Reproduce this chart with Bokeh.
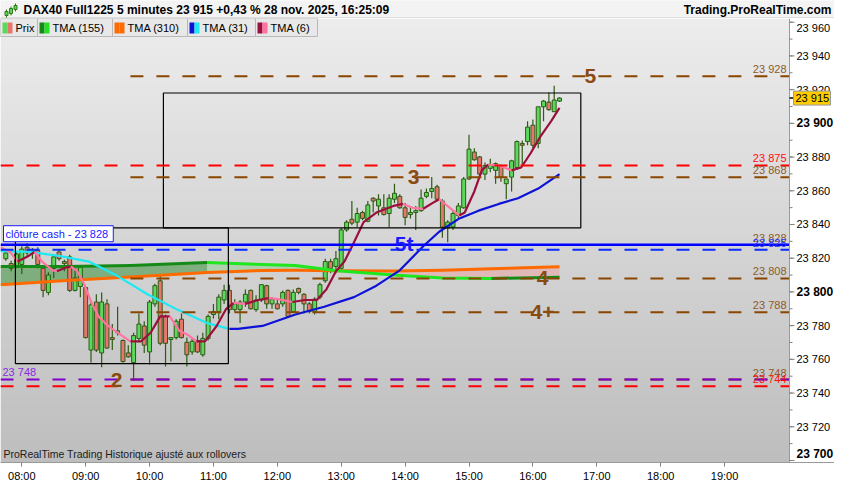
import numpy as np
from bokeh.plotting import figure
from bokeh.layouts import column
from bokeh.models import Range1d, FixedTicker, Label
from bokeh.core.properties import value
from bokeh.embed import file_html
from bokeh.resources import INLINE

FONT = "Liberation Sans"

# ---------------- texts ----------------
title_text = "DAX40 Full1225 5 minutes 23 915 +0,43 % 28 nov. 2025, 16:25:09"
site_text = "Trading.ProRealTime.com"
footer_text = "ProRealTime Trading  Historique ajusté aux rollovers"
legend_names = ["Prix", "TMA (155)", "TMA (310)", "TMA (31)", "TMA (6)"]
cash_text = "clôture cash -  23 828"
last_price_text = "23 915"
last_price = 23915

# ---------------- candles (5 minutes, first bar 07:45) ----------------
first_bar = "07:45"
bar_minutes = 5
opens = [
    23819.7, 23816.8, 23815.1, 23816.3, 23826.5, 23823.1, 23824.8,
    23814.0, 23799.7, 23814.0, 23823.7, 23818.0, 23820.8, 23800.9, 23803.2,
    23802.6, 23765.5, 23794.0, 23763.8, 23792.9, 23772.9, 23775.8, 23771.2, 23763.8, 23758.1, 23772.4, 23779.8,
    23764.4, 23792.9, 23806.6, 23785.5, 23771.8, 23772.9, 23783.8, 23770.1, 23764.4, 23771.2, 23762.7, 23772.4,
    23786.6, 23788.3, 23795.2, 23800.9, 23789.5, 23789.5, 23794.0, 23800.9, 23789.5, 23795.2, 23803.7, 23792.9,
    23792.9, 23792.9, 23800.9, 23788.3, 23802.0, 23798.6, 23792.9, 23788.3, 23796.9, 23806.6, 23818.0, 23815.1,
    23814.0, 23836.8, 23843.1, 23841.4, 23847.1, 23841.9, 23855.6, 23851.0, 23849.9, 23846.5, 23855.0, 23856.7,
    23849.9, 23845.9, 23847.1, 23848.2, 23856.7, 23859.6, 23862.4, 23853.9,
    23837.9, 23838.5, 23845.3, 23849.9, 23867.0,
    23883.0, 23880.1, 23869.9, 23873.3, 23872.1, 23875.0, 23864.2, 23868.1, 23873.8, 23888.1, 23889.2, 23898.9,
    23888.1, 23909.8, 23912.6, 23906.9, 23913.2,
]
highs = [
    23825.4, 23818.5, 23824.2, 23827.1, 23828.8, 23826.0, 23826.5,
    23815.7, 23811.7, 23822.5, 23825.4, 23819.1, 23822.0, 23815.1, 23815.7,
    23803.2, 23794.0, 23798.6, 23799.7, 23795.7, 23780.9, 23791.2, 23771.8, 23768.4, 23775.8, 23787.2, 23782.6,
    23795.2, 23804.9, 23809.4, 23786.6, 23772.9, 23783.8, 23787.2, 23772.9, 23772.4, 23774.1, 23775.8, 23786.6,
    23792.9, 23798.6, 23804.3, 23804.3, 23795.7, 23795.2, 23801.4, 23801.4, 23798.0, 23804.3, 23804.3, 23796.9,
    23795.2, 23800.9, 23801.4, 23801.4, 23802.6, 23799.2, 23794.0, 23796.9, 23805.4, 23819.7, 23819.7, 23824.2,
    23837.9, 23842.5, 23853.9, 23849.9, 23848.2, 23853.9, 23856.2, 23857.9, 23857.9, 23857.9, 23864.2, 23857.9,
    23852.8, 23849.9, 23851.0, 23860.7, 23861.3, 23868.1, 23863.6, 23855.0,
    23842.5, 23848.2, 23852.8, 23868.1, 23893.2,
    23885.2, 23880.7, 23876.7, 23879.0, 23876.7, 23875.6, 23867.0, 23878.4, 23889.8, 23889.8, 23901.2, 23902.3,
    23909.8, 23913.8, 23918.3, 23922.3, 23915.5,
]
lows = [
    23818.5, 23812.3, 23814.0, 23810.6, 23820.8, 23819.7, 23814.0,
    23796.9, 23798.0, 23808.3, 23818.5, 23812.3, 23800.0, 23800.3, 23796.9,
    23772.4, 23758.1, 23764.4, 23755.3, 23766.1, 23765.5, 23774.1, 23758.1, 23761.0, 23747.3, 23770.1, 23763.8,
    23757.0, 23791.2, 23768.4, 23755.8, 23758.7, 23771.8, 23772.4, 23755.8, 23762.7, 23763.8, 23761.5, 23771.2,
    23784.3, 23783.8, 23792.9, 23787.2, 23788.3, 23781.5, 23791.2, 23789.5, 23788.3, 23794.0, 23790.0, 23790.0,
    23789.5, 23791.2, 23784.9, 23787.7, 23798.6, 23787.2, 23787.2, 23786.6, 23795.7, 23805.4, 23811.1, 23811.1,
    23812.3, 23835.7, 23839.6, 23838.5, 23842.5, 23841.4, 23847.1, 23845.3, 23845.3, 23838.5, 23852.8, 23849.3,
    23839.6, 23843.6, 23836.8, 23847.6, 23855.6, 23855.6, 23853.9, 23832.2,
    23829.4, 23836.8, 23843.6, 23849.3, 23866.4,
    23877.8, 23869.3, 23866.4, 23871.0, 23864.2, 23865.3, 23855.0, 23859.6, 23872.7, 23875.6, 23887.0, 23885.2,
    23885.2, 23901.2, 23907.5, 23906.9, 23912.6,
]
closes = [
    23823.1, 23814.0, 23822.5, 23825.4, 23823.1, 23824.2, 23816.3,
    23800.9, 23810.0, 23820.8, 23819.7, 23816.8, 23800.9, 23808.3, 23814.6,
    23772.9, 23792.3, 23765.5, 23794.0, 23766.7, 23771.8, 23776.9, 23758.7, 23761.5, 23774.1, 23780.9, 23768.4,
    23794.0, 23803.7, 23769.5, 23769.5, 23772.9, 23782.6, 23772.9, 23762.7, 23770.7, 23764.4, 23772.4, 23785.5,
    23788.3, 23796.9, 23800.9, 23789.5, 23792.9, 23794.0, 23798.6, 23790.0, 23795.2, 23804.3, 23792.9, 23795.7,
    23790.0, 23799.7, 23785.5, 23799.7, 23799.7, 23792.9, 23788.3, 23795.7, 23804.3, 23818.0, 23814.0, 23819.7,
    23836.8, 23841.4, 23840.8, 23846.5, 23843.6, 23851.6, 23853.9, 23855.0, 23845.9, 23855.6, 23858.5, 23849.9,
    23844.2, 23847.1, 23848.2, 23855.6, 23859.0, 23861.3, 23855.0, 23838.5,
    23841.4, 23846.5, 23851.0, 23867.0, 23884.7,
    23878.4, 23869.9, 23875.0, 23875.6, 23876.1, 23868.1, 23867.0, 23877.8, 23889.2, 23887.0, 23897.8, 23887.0,
    23909.8, 23913.2, 23908.1, 23913.8, 23915.0,
]

# ---------------- moving averages ----------------
tma6_times = ["07:40", "07:49", "07:56", "08:05", "08:12", "08:19", "08:29", "08:33", "08:42", "08:46",
              "08:52", "08:58", "09:06", "09:12", "09:21", "09:30", "09:42", "09:52", "10:01", "10:10",
              "10:19", "10:28", "10:37", "10:44", "10:52", "11:03", "11:12", "11:19", "11:30", "11:42",
              "11:52", "12:01", "12:14", "12:26", "12:37", "12:46", "12:55", "13:03", "13:12", "13:21",
              "13:33", "13:49", "13:58", "14:07", "14:17", "14:26", "14:32", "14:42", "14:51", "14:56",
              "15:05", "15:12", "15:18", "15:28", "15:40", "15:49", "15:58", "16:07", "16:17", "16:25"]
tma6_values = [23826.5, 23823.7, 23818.0, 23820.8, 23823.7, 23818.0, 23812.8, 23812.3, 23814.6, 23815.1,
               23812.3, 23805.4, 23792.9, 23785.5, 23779.8, 23775.8, 23770.7, 23770.7, 23775.8, 23785.5,
               23785.5, 23776.9, 23774.1, 23770.7, 23770.7, 23779.8, 23790.0, 23793.5, 23792.9, 23795.2,
               23796.3, 23795.7, 23794.0, 23795.2, 23795.2, 23801.4, 23812.3, 23818.0, 23829.4, 23841.4,
               23847.1, 23851.0, 23852.2, 23849.9, 23849.3, 23852.8, 23855.0, 23849.9, 23845.3, 23847.1,
               23859.6, 23872.1, 23875.6, 23875.0, 23872.1, 23873.8, 23882.4, 23892.1, 23901.2, 23909.2]

tma31_times = ["07:40", "08:07", "08:35", "09:03", "09:30", "09:58", "10:26", "10:54", "11:15", "11:23",
               "11:46", "12:17", "12:44", "13:12", "13:33", "13:55", "14:17", "14:32", "14:51", "15:09",
               "15:28", "15:46", "16:05", "16:25"]
tma31_values = [23824.2, 23823.7, 23821.4, 23818.0, 23809.4, 23798.6, 23789.5, 23781.5, 23778.1, 23778.1,
                23779.8, 23786.6, 23791.2, 23796.9, 23803.7, 23812.8, 23827.1, 23835.7, 23843.6, 23848.2,
                23852.2, 23855.6, 23861.3, 23869.9]

tma_long_times = ["07:40", "08:42", "09:42", "10:54", "11:46", "12:17", "12:56", "13:49", "14:35", "15:21", "16:25"]
tma155_values = [23815.1, 23815.1, 23815.7, 23817.4, 23816.3, 23815.7, 23812.6, 23810.0, 23808.3, 23808.0, 23808.7]
tma310_values = [23804.3, 23806.7, 23808.9, 23811.5, 23812.7, 23812.8, 23812.6, 23812.4, 23812.8, 23813.7, 23815.0]

# ---------------- drawn objects ----------------
box_left = ["07:54", "10:13"]
box_right = ["11:14", "16:45"]
box_top = [23838.0, 23918.0]
box_bottom = [23757.5, 23838.0]

level_prices = [23928, 23875, 23868, 23828, 23825, 23808, 23788, 23748, 23748, 23744]
level_kinds = ["wave", "red", "wave", "cash", "blue", "wave", "wave", "wave", "purple", "red"]
level_starts = ["09:42", "07:40", "09:42", "07:40", "07:40", "09:42", "09:42", "09:42", "07:40", "07:40"]

right_label_texts = ["23 928", "23 875", "23 868", "23 828", "23 825", "23 808", "23 788", "23 748", "23 744"]
right_label_prices = [23928, 23875, 23868, 23828, 23825, 23808, 23788, 23748, 23744]
right_label_kinds = ["wave", "red", "wave", "wave", "blue", "wave", "wave", "wave", "red"]

left_label_text = "23 748"
left_label_price = 23748

wave_texts = ["5", "3", "5t", "4", "4+", "2"]
wave_times = ["16:54", "14:08", "13:59", "16:09", "16:09", "09:29"]
wave_prices = [23928, 23868, 23828.8, 23808, 23788, 23748]
wave_kinds = ["wave", "wave", "blue", "wave", "wave", "wave"]

x_tick_labels = ["08:00", "09:00", "10:00", "11:00", "12:00", "13:00",
                 "14:00", "15:00", "16:00", "17:00", "18:00", "19:00"]
y_tick_labels = ["23 700", "23 720", "23 740", "23 760", "23 780", "23 800", "23 820",
                 "23 840", "23 860", "23 880", "23 900", "23 920", "23 940", "23 960"]
y_bold_labels = ["23 700", "23 800", "23 900"]
view_start, view_end = "07:40", "20:01"
price_low, price_high = 23698.8, 23962.2

# ---------------- helpers / styles ----------------
def hours(s):
    h, m = s.split(":")
    return int(h) + int(m) / 60.0


STYLE = {
    "wave": dict(color="#8a4500", dash="13 13", width=2, label="#8e5a2a"),
    "red": dict(color="#ff0000", dash="13 13", width=2, label="#ff1010"),
    "cash": dict(color="#0000ff", dash="solid", width=2.5, label="#1a1aff"),
    "blue": dict(color="#0a2cff", dash="13 13", width=2, label="#2233ff"),
    "purple": dict(color="#8000d0", dash="13 13", width=2, label="#8a2be2"),
}
UP, DOWN, EDGE = "#5cd85c", "#e8766e", "#2d5a14"

W = 834
FW, FH = 789, 444          # data area inside the frame
AXW = W - FW               # price scale strip (part of the frame)
X0, X1 = hours(view_start), hours(view_end)
XPP = (X1 - X0) / FW
XE = X1 + AXW * XPP
Y0, Y1 = price_low, price_high
YPP = (Y1 - Y0) / FH


def dx(px):
    return X0 + px * XPP


def dy(py):
    return Y1 - py * YPP


# ---------------- header strip ----------------
hdr = figure(width=W, height=18, x_range=Range1d(0, W), y_range=Range1d(18, 0),
             x_axis_type=None, y_axis_type=None, toolbar_location=None,
             output_backend="svg", min_border=0)
hdr.outline_line_color = None
hdr.background_fill_color = "#f3f3f3"
hdr.border_fill_color = "#f3f3f3"
hdr.segment(x0=[0], y0=[17.5], x1=[W], y1=[17.5], line_color="#c8c8c8", line_width=1)
hdr.segment(x0=[6, 10.5, 15], y0=[9, 6, 3], x1=[6, 10.5, 15], y1=[17, 15, 11], line_color="#2d7a14")
hdr.quad(left=[4.5, 9, 13.5], right=[7.5, 12, 16.5], top=[11, 8, 5], bottom=[15, 13, 9],
         fill_color="#5cd85c", line_color="#2d7a14")
hdr.text(x=[23], y=[9.5], text=[title_text], text_font=value(FONT), text_font_style="bold",
         text_font_size="12px", text_baseline="middle", text_color="#000000")
hdr.text(x=[W - 3], y=[9.5], text=[site_text], text_font=value(FONT), text_font_style="bold",
         text_font_size="12px", text_baseline="middle", text_align="right", text_color="#000000")

# ---------------- main chart ----------------
p = figure(frame_width=W, frame_height=FH, x_range=Range1d(X0, XE), y_range=Range1d(Y0, Y1),
           y_axis_location=None, output_backend="svg", toolbar_location=None,
           min_border_left=0, min_border_right=0, min_border_top=0, min_border_bottom=18)
p.outline_line_color = None
p.border_fill_color = "white"
p.background_fill_color = "white"
p.xgrid.visible = False
p.ygrid.visible = False

# gradient background of the price area
n = 222
img = np.empty((n, 1), dtype=np.uint32)
view = img.view(dtype=np.uint8).reshape((n, 1, 4))
top_c = np.array([237, 237, 237])
bot_c = np.array([190, 190, 190])
for i in range(n):
    f = i / (n - 1)
    view[i, 0, :3] = (bot_c + (top_c - bot_c) * f).astype(np.uint8)
    view[i, 0, 3] = 255
p.image_rgba(image=[img], x=X0, y=Y0, dw=X1 - X0, dh=Y1 - Y0)

# band between TMA155 and TMA310
lt = [hours(s) for s in tma_long_times]
cats = []
for i in range(len(lt) - 1):
    if tma155_values[i] >= tma310_values[i] and tma155_values[i + 1] >= tma310_values[i + 1]:
        cats.append("dark" if tma155_values[i + 1] >= tma155_values[i] else "light")
    else:
        cats.append("pink")
FILL = {"dark": ("#3a8f3a", 0.55), "light": ("#6fd06f", 0.35), "pink": ("#f29a9a", 0.45)}
i = 0
while i < len(cats):
    j = i
    while j + 1 < len(cats) and cats[j + 1] == cats[i]:
        j += 1
    col, alpha = FILL[cats[i]]
    p.varea(x=lt[i:j + 2], y1=tma155_values[i:j + 2], y2=tma310_values[i:j + 2],
            fill_color=col, fill_alpha=alpha)
    i = j + 1

# candles
t0 = hours(first_bar)
bar_t = [t0 + k * bar_minutes / 60.0 for k in range(len(opens))]
bw = 0.74 * bar_minutes / 60.0
p.segment(x0=bar_t, y0=highs, x1=bar_t, y1=lows, line_color=EDGE, line_width=1.2)
up = [k for k in range(len(opens)) if closes[k] >= opens[k]]
dn = [k for k in range(len(opens)) if closes[k] < opens[k]]
p.vbar(x=[bar_t[k] for k in up], width=bw, top=[closes[k] for k in up], bottom=[opens[k] for k in up],
       fill_color=UP, line_color=EDGE, line_width=1)
p.vbar(x=[bar_t[k] for k in dn], width=bw, top=[opens[k] for k in dn], bottom=[closes[k] for k in dn],
       fill_color=DOWN, line_color=EDGE, line_width=1)


def runs(ts, vs, rise_col, fall_col):
    xs, ys, cs = [], [], []
    cur = None
    for k in range(len(ts) - 1):
        col = rise_col if vs[k + 1] >= vs[k] else fall_col
        if col != cur:
            xs.append([ts[k]]); ys.append([vs[k]]); cs.append(col); cur = col
        xs[-1].append(ts[k + 1]); ys[-1].append(vs[k + 1])
    return xs, ys, cs


xs, ys, cs = runs(lt, tma310_values, "#ff6a00", "#ff6a00")
p.multi_line(xs=xs, ys=ys, line_color=cs, line_width=3, line_join="round")
xs, ys, cs = runs(lt, tma155_values, "#168a16", "#1fe61f")
p.multi_line(xs=xs, ys=ys, line_color=cs, line_width=3, line_join="round")
xs, ys, cs = runs([hours(s) for s in tma31_times], tma31_values, "#0d12d6", "#1ee8f2")
p.multi_line(xs=xs, ys=ys, line_color=cs, line_width=2.2, line_join="round")
xs, ys, cs = runs([hours(s) for s in tma6_times], tma6_values, "#9b0f3c", "#ff74a0")
p.multi_line(xs=xs, ys=ys, line_color=cs, line_width=2.2, line_join="round")

# boxes
p.quad(left=[hours(s) for s in box_left], right=[hours(s) for s in box_right],
       top=box_top, bottom=box_bottom, fill_color=None, line_color="#000000", line_width=1.2)

# horizontal levels
for price, kind, start in zip(level_prices, level_kinds, level_starts):
    st = STYLE[kind]
    p.segment(x0=[hours(start)], y0=[price], x1=[X1], y1=[price], line_color=st["color"],
              line_width=st["width"], line_dash=st["dash"])

# level labels
p.text(x=[X1] * len(right_label_texts), y=right_label_prices, text=right_label_texts,
       text_color=[STYLE[k]["label"] for k in right_label_kinds], text_font=value(FONT),
       text_font_size="11px", text_align="right", text_baseline="bottom", x_offset=-3, y_offset=-1)
p.text(x=[X0], y=[left_label_price], text=[left_label_text], text_color=STYLE["purple"]["label"],
       text_font=value(FONT), text_font_size="11px", text_baseline="bottom", x_offset=2, y_offset=-2)

# wave labels
p.text(x=[hours(s) for s in wave_times], y=wave_prices, text=wave_texts,
       text_color=["#8a4a10" if k == "wave" else "#1a1aff" for k in wave_kinds],
       text_font=value(FONT), text_font_style="bold", text_font_size="21px",
       text_align="center", text_baseline="middle")

# footer
p.text(x=[X0], y=[Y0], text=[footer_text], text_font=value(FONT), text_font_size="10.5px",
       text_color="#202020", text_baseline="bottom", x_offset=3, y_offset=-3)

# cash close label
p.add_layout(Label(x=X0, y=level_prices[3], x_offset=3, y_offset=3, text=cash_text,
                   text_font=FONT, text_font_size="11px", text_color="#1a1aff",
                   text_baseline="bottom", background_fill_color="white",
                   border_line_color="#1a1aff", border_line_width=1, padding=2))

# legend row (top strip of the frame)
cell_l = [0, 37, 112, 187, 255]
cell_r = [37, 112, 187, 255, 317]
sw_a = ["#5cd85c", "#138a13", "#ff6a00", "#0d12d6", "#9b0f3c"]
sw_b = ["#e8766e", "#22e022", "#ff6a00", "#1ee8f2", "#ff74a0"]
p.quad(left=[dx(v) for v in cell_l], right=[dx(v) for v in cell_r], top=[dy(0)] * 5, bottom=[dy(18)] * 5,
       fill_color="#e8e8e8", line_color="#b8b8b8", line_width=1)
p.quad(left=[dx(v + 2) for v in cell_l], right=[dx(v + 7) for v in cell_l], top=[dy(4)] * 5,
       bottom=[dy(15)] * 5, fill_color=sw_a, line_color=None)
p.quad(left=[dx(v + 7) for v in cell_l], right=[dx(v + 12) for v in cell_l], top=[dy(4)] * 5,
       bottom=[dy(15)] * 5, fill_color=sw_b, line_color=None)
p.text(x=[dx(v + 15) for v in cell_l], y=[dy(9.5)] * 5, text=legend_names, text_font=value(FONT),
       text_font_size="11px", text_baseline="middle", text_color="#000000")

# ---------------- price scale (drawn in the right strip) ----------------
yt = [int(s.replace(" ", "")) for s in y_tick_labels]
ym = list(range(yt[0], yt[-1] + 10, 10))
p.quad(left=[X1], right=[XE], top=[Y1], bottom=[Y0], fill_color="white", line_color=None)
p.segment(x0=[X1], y0=[Y0], x1=[X1], y1=[Y1], line_color="#9a9a9a", line_width=1)
p.segment(x0=[X1] * len(ym), y0=ym, x1=[dx(FW + 3)] * len(ym), y1=ym, line_color="#808080", line_width=1)
p.segment(x0=[X1] * len(yt), y0=yt, x1=[dx(FW + 5)] * len(yt), y1=yt, line_color="#808080", line_width=1)
# edge labels are nudged inwards, as the original scale does
edge_shift = [6 if v == yt[-1] else (-6 if v == yt[0] else 0) for v in yt]
plain = [k for k, s in enumerate(y_tick_labels) if s not in y_bold_labels]
bold = [k for k, s in enumerate(y_tick_labels) if s in y_bold_labels]
for idx, style, size in ((plain, "normal", "11px"), (bold, "bold", "12px")):
    for k in idx:
        p.text(x=[dx(FW + 7)], y=[yt[k]], text=[y_tick_labels[k]], text_font=value(FONT),
               text_font_style=style, text_font_size=size, text_baseline="middle",
               text_color="#000000", y_offset=edge_shift[k])

# last price tag
p.segment(x0=[X1], y0=[last_price], x1=[dx(FW + 5)], y1=[last_price], line_color="#000000", line_width=1.5)
p.quad(left=[dx(FW + 4)], right=[dx(FW + 41)], top=[last_price + 7 * YPP], bottom=[last_price - 7 * YPP],
       fill_color="#ffcc00", line_color="#9a9a9a", line_width=1)
p.text(x=[dx(FW + 6)], y=[last_price], text=[last_price_text], text_font=value(FONT),
       text_font_size="11px", text_baseline="middle", text_color="#000000")

# ---------------- time axis ----------------
xt = [hours(s) for s in x_tick_labels]
p.xaxis.ticker = FixedTicker(ticks=xt)
p.xaxis.major_label_overrides = dict(zip(xt, x_tick_labels))
p.xaxis.minor_tick_line_color = None
p.xaxis.major_tick_in = 0
p.xaxis.major_tick_out = 4
p.xaxis.axis_line_color = "#9a9a9a"
p.xaxis.major_tick_line_color = "#808080"
p.xaxis.major_label_text_font = FONT
p.xaxis.major_label_text_font_size = "11px"
p.xaxis.major_label_text_color = "#000000"
p.xaxis.major_label_standoff = 3

layout = column(hdr, p, spacing=0)
open("out.html", "w").write(file_html(layout, INLINE))
